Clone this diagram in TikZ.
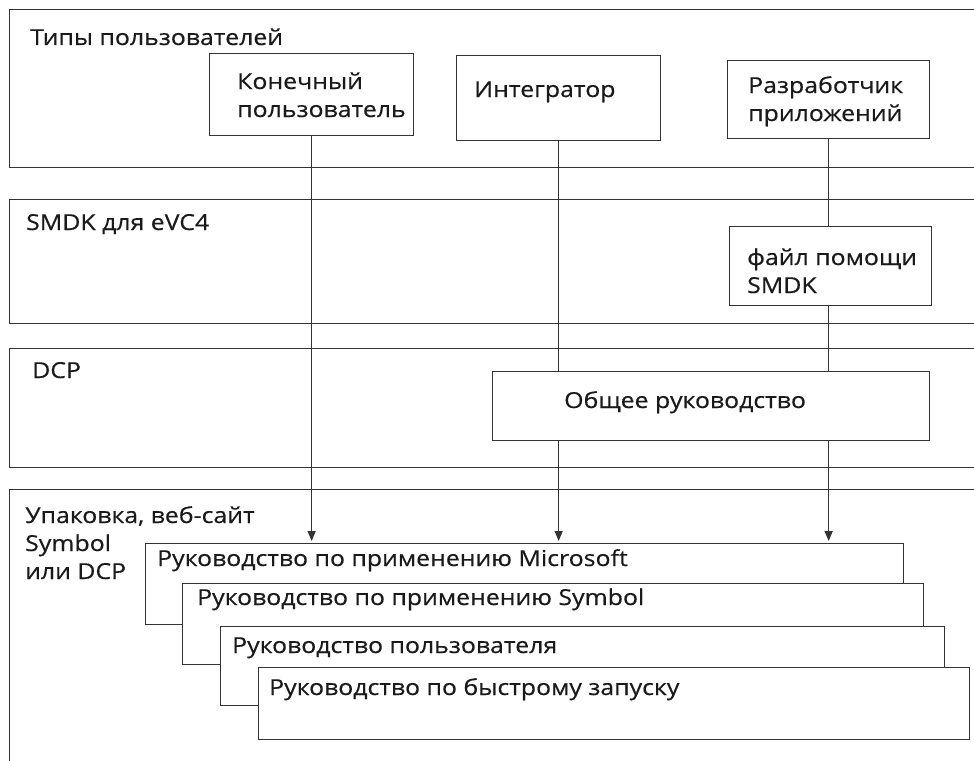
\documentclass[tikz,border=0pt]{standalone}
\usepackage{fontspec}
\setmainfont{Open Sans}[FakeStretch=1.13,FakeBold=0.4]
\usetikzlibrary{arrows.meta}
\definecolor{ln}{HTML}{333333}
\definecolor{tx}{HTML}{1A1A1A}
\begin{document}
\begin{tikzpicture}[x=1pt,y=-1pt,
  band/.style={draw=ln, line width=1.3pt, anchor=north west, inner sep=0pt},
  box/.style={draw=ln, line width=1.3pt, fill=white, anchor=north west, inner sep=0pt},
  txt/.style={anchor=base west, inner sep=0pt, text=tx, align=left,
    font=\fontsize{22}{28}\selectfont},
  conn/.style={draw=ln, line width=1.3pt},
  arr/.style={conn, -{Triangle[width=8pt,length=10pt]}, shorten >=2pt}]
\useasboundingbox[clip] (0,0) rectangle (974,760);
\fill[white] (0,0) rectangle (974,760);
% bands
\node[band, minimum width=1000pt, minimum height=158pt] (b1) at (9,9) {};
\node[band, minimum width=1000pt, minimum height=124pt] (b2) at (9,199) {};
\node[band, minimum width=1000pt, minimum height=119pt] (b3) at (9,348) {};
\node[band, minimum width=1000pt, minimum height=320pt] (b4) at (9,489) {};
% band titles
\node[txt] (t1) at (30,45) {Типы пользователей};
\node[txt] (t2) at (26,230) {SMDK для eVC4};
\node[txt] (t3) at (32,378) {DCP};
\node[txt] (t4) at (25,579) {Упаковка, веб-сайт\\Symbol\\или DCP};
% user boxes
\node[box, minimum width=204pt, minimum height=82pt] (kon) at (209,53) {};
\node[txt] (tkon) at (237,117) {Конечный\\пользователь};
\node[box, minimum width=204pt, minimum height=85pt] (int) at (456,55) {};
\node[txt] (tint) at (474,97) {Интегратор};
\node[box, minimum width=202pt, minimum height=78pt] (dev) at (727,60) {};
\node[txt] (tdev) at (748,121) {Разработчик\\приложений};
% help
\node[box, minimum width=202pt, minimum height=79pt] (help) at (729,226) {};
\node[txt] (thelp) at (747,293) {файл помощи\\SMDK};
% general
\node[box, minimum width=437pt, minimum height=69pt] (gen) at (492,371) {};
\node[txt] (tgen) at (564,408) {Общее руководство};
% documents
\node[box, minimum width=758pt, minimum height=81pt] (d1) at (145,543) {};
\node[txt] (td1) at (157,566) {Руководство по применению Microsoft};
\node[box, minimum width=741pt, minimum height=81pt] (d2) at (182,583) {};
\node[txt] (td2) at (197,605) {Руководство по применению Symbol};
\node[box, minimum width=724pt, minimum height=79pt] (d3) at (220,626) {};
\node[txt] (td3) at (232,653) {Руководство пользователя};
\node[box, minimum width=711pt, minimum height=72pt] (d4) at (258,667) {};
\node[txt] (td4) at (269,695) {Руководство по быстрому запуску};
% connectors
\draw[arr] (kon.south) -- (kon.south |- d1.north);
\draw[conn] (int.south) -- (int.south |- gen.north);
\draw[arr] (int.south |- gen.south) -- (int.south |- d1.north);
\draw[conn] (dev.south) -- (dev.south |- help.north);
\draw[conn] (dev.south |- help.south) -- (dev.south |- gen.north);
\draw[arr] (dev.south |- gen.south) -- (dev.south |- d1.north);
\end{tikzpicture}
\end{document}
